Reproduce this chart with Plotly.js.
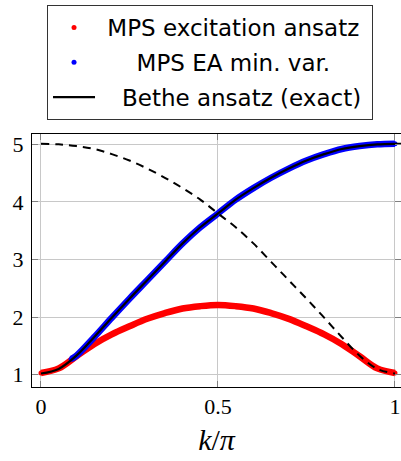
<!DOCTYPE html>
<html>
<head>
<meta charset="utf-8">
<script src="https://cdn.plot.ly/plotly-3.0.1.min.js"></script>
<style>html,body{margin:0;padding:0;background:#fff;}#chart{width:401px;height:461px;}</style>
</head>
<body>
<div id="chart"></div>
<script>
// momentum k/pi
const kGrid = [0.00,0.05,0.10,0.15,0.20,0.25,0.30,0.35,0.40,0.45,0.50,0.55,0.60,0.65,0.70,0.75,0.80,0.85,0.90,0.95,1.00];
// MPS excitation ansatz (red)
const eExcitation = [1.03,1.11,1.32,1.53,1.70,1.84,1.97,2.07,2.15,2.19,2.21,2.19,2.15,2.07,1.97,1.84,1.70,1.53,1.32,1.11,1.03];
// MPS EA min. var. (blue)
const kMinVar = [0.085,0.10,0.15,0.20,0.25,0.30,0.35,0.40,0.45,0.50,0.55,0.60,0.65,0.70,0.75,0.80,0.85,0.90,0.95,1.00];
const eMinVar = [1.27,1.33,1.65,1.99,2.32,2.64,2.96,3.28,3.56,3.80,4.04,4.24,4.42,4.58,4.72,4.83,4.92,4.97,5.00,5.01];
// Bethe ansatz exact (solid)
const kBethe = [0.00,0.05,0.10,0.15,0.20,0.25,0.30,0.35,0.40,0.45,0.50,0.55,0.60,0.65,0.70,0.75,0.80,0.85,0.90,0.95,1.00,1.02];
const eBethe = [1.02,1.10,1.33,1.65,1.99,2.32,2.64,2.96,3.28,3.56,3.80,4.04,4.24,4.42,4.58,4.72,4.83,4.92,4.97,5.00,5.01,5.01];
// Bethe ansatz, other branch (dashed)
const kDashed = [0.00,0.05,0.10,0.15,0.20,0.25,0.30,0.35,0.40,0.45,0.50,0.55,0.60,0.65,0.70,0.75,0.80,0.85,0.90,0.95,1.00];
const eDashed = [5.01,5.00,4.97,4.92,4.83,4.72,4.58,4.42,4.24,4.04,3.80,3.56,3.28,2.96,2.64,2.32,1.99,1.65,1.33,1.10,1.02];
// labels
const xTickVals = [0, 0.5, 1];
const xTickText = ['0', '0.5', '1'];
const yTickVals = [1, 2, 3, 4, 5];
const yTickText = ['1', '2', '3', '4', '5'];
const names = ['MPS excitation ansatz', 'MPS EA min. var.', 'Bethe ansatz (exact)'];
const NB = '\u00a0';
const pad = (s, n, m) => NB.repeat(n) + s + NB.repeat(m);

const traces = [
  {x: kGrid, y: eExcitation, mode: 'lines', line: {color: '#ff0000', width: 6.5, shape: 'spline'}, showlegend: false, hoverinfo: 'skip'},
  {x: kGrid, y: eExcitation, mode: 'markers', marker: {color: '#ff0000', size: 5}, name: pad(names[0], 1, 1), legendgroup: 'a', legendrank: 1},
  {x: kMinVar, y: eMinVar, mode: 'lines', line: {color: '#0000ff', width: 6.5, shape: 'spline'}, showlegend: false, hoverinfo: 'skip'},
  {x: kMinVar, y: eMinVar, mode: 'markers', marker: {color: '#0000ff', size: 5}, name: pad(names[1], 5, 0), legendgroup: 'b', legendrank: 2},
  {x: kBethe, y: eBethe, mode: 'lines', line: {color: '#000000', width: 2.2, shape: 'spline'}, name: pad(names[2], 3, 0), legendgroup: 'c', legendrank: 3},
  {x: kDashed, y: eDashed, mode: 'lines', line: {color: '#000000', width: 2, dash: '8px,6px', shape: 'spline'}, showlegend: false}
];

const axisCommon = {
  showline: true, linecolor: '#000', linewidth: 1, mirror: 'ticks',
  ticks: 'inside', ticklen: 6, tickcolor: '#808080', tickwidth: 1,
  showgrid: true, gridcolor: '#c8c8c8', gridwidth: 1, zeroline: false,
  tickfont: {family: 'Liberation Serif, serif', size: 22, color: '#000'}
};

const layout = {
  width: 401, height: 461,
  margin: {l: 32, r: 0, t: 134, b: 74},
  paper_bgcolor: '#fff', plot_bgcolor: '#fff',
  showlegend: true,
  legend: {
    x: 0.0407, xanchor: 'left', y: 1.51, yanchor: 'top',
    bordercolor: '#333', borderwidth: 1, bgcolor: '#fff',
    font: {family: 'DejaVu Sans, sans-serif', size: 23, color: '#000'},
    tracegroupgap: 2, itemwidth: 42
  },
  xaxis: Object.assign({}, axisCommon, {
    range: [-0.0254, 1.017], tickvals: xTickVals, ticktext: xTickText,
    title: {text: '<i>k</i>/<i>π</i>', font: {family: 'Liberation Serif, serif', size: 30, color: '#000'}, standoff: 10}
  }),
  yaxis: Object.assign({}, axisCommon, {
    range: [0.786, 5.18], tickvals: yTickVals, ticktext: yTickText,
    ticklabelstandoff: 3
  })
};

Plotly.newPlot('chart', traces, layout, {displayModeBar: false, staticPlot: true});
</script>
</body>
</html>
